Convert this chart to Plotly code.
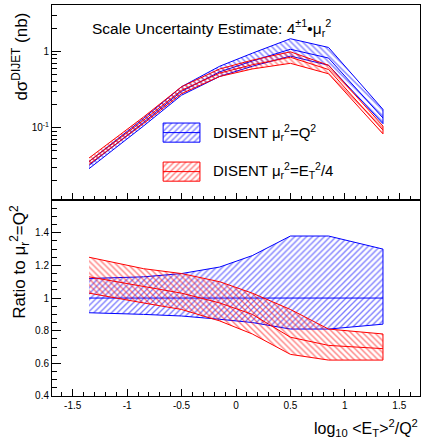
import plotly.graph_objects as go

# ---------------- data ----------------
x_bins = [-1.35, -0.85, -0.5, -0.15, 0.15, 0.5, 0.85, 1.35]

# top panel: d sigma (nb)
blue_xs_up = [0.036, 0.132, 0.345, 0.64, 0.95, 1.47, 1.13, 0.174]
blue_xs_c = [0.032, 0.117, 0.30, 0.54, 0.75, 1.07, 0.82, 0.134]
blue_xs_lo = [0.029, 0.105, 0.267, 0.47, 0.64, 0.87, 0.66, 0.113]
red_xs_up = [0.040, 0.138, 0.345, 0.59, 0.77, 0.99, 0.66, 0.105]
red_xs_c = [0.036, 0.125, 0.31, 0.52, 0.67, 0.84, 0.58, 0.093]
red_xs_lo = [0.033, 0.113, 0.28, 0.47, 0.59, 0.70, 0.51, 0.083]

# bottom panel: ratio to mu_r^2 = Q^2
blue_r_up = [1.12, 1.13, 1.15, 1.19, 1.26, 1.38, 1.38, 1.30]
blue_r_c = [1.0, 1.0, 1.0, 1.0, 1.0, 1.0, 1.0, 1.0]
blue_r_lo = [0.91, 0.90, 0.89, 0.87, 0.85, 0.81, 0.81, 0.84]
red_r_up = [1.25, 1.18, 1.15, 1.10, 1.03, 0.93, 0.81, 0.78]
red_r_c = [1.13, 1.07, 1.03, 0.97, 0.90, 0.76, 0.71, 0.69]
red_r_lo = [1.03, 0.97, 0.93, 0.86, 0.78, 0.655, 0.62, 0.62]

x_tick_vals = [-1.5, -1, -0.5, 0, 0.5, 1, 1.5]
x_tick_text = ["-1.5", "-1", "-0.5", "0", "0.5", "1", "1.5"]
r_tick_vals = [0.4, 0.6, 0.8, 1.0, 1.2, 1.4]
r_tick_text = ["0.4", "0.6", "0.8", "1", "1.2", "1.4"]
xs_tick_vals = [0.1, 1]
xs_tick_text = ["10<sup>-1</sup>", "1"]

legend_labels = ["DISENT μ<sub>r</sub><sup>2</sup>=Q<sup>2</sup>",
                 "DISENT μ<sub>r</sub><sup>2</sup>=E<sub>T</sub><sup>2</sup>/4"]

BLUE = "#0000ff"
RED = "#ff0000"
FONT = "Liberation Sans, Arial, sans-serif"
HATCH_SIZE = 4.2
HATCH_SOLID = 0.33

fig = go.Figure()


def band(x, lo, c, up, color, shape, xa, ya):
    fig.add_trace(go.Scatter(
        x=list(x) + list(x)[::-1], y=list(up) + list(lo)[::-1],
        fill="toself", fillcolor="rgba(0,0,0,0)",
        fillpattern=dict(shape=shape, fgcolor=color, bgcolor="rgba(0,0,0,0)",
                         size=HATCH_SIZE, solidity=HATCH_SOLID),
        mode="lines", line=dict(color=color, width=1),
        xaxis=xa, yaxis=ya, showlegend=False, hoverinfo="skip"))
    fig.add_trace(go.Scatter(x=x, y=c, mode="lines", line=dict(color=color, width=1),
                             xaxis=xa, yaxis=ya, showlegend=False, hoverinfo="skip"))


band(x_bins, blue_xs_lo, blue_xs_c, blue_xs_up, BLUE, "\\", "x", "y")
band(x_bins, red_xs_lo, red_xs_c, red_xs_up, RED, "\\", "x", "y")
band(x_bins, blue_r_lo, blue_r_c, blue_r_up, BLUE, "/", "x2", "y2")
band(x_bins, red_r_lo, red_r_c, red_r_up, RED, "\\", "x2", "y2")

# legend swatches on an overlay axis (fractions of the top panel)
sw_x0, sw_x1 = 0.302, 0.402
for (y0, y1), color, label, ty in [((0.297, 0.395), BLUE, legend_labels[0], 0.675),
                                   ((0.097, 0.195), RED, legend_labels[1], 0.577)]:
    fig.add_trace(go.Scatter(
        x=[sw_x0, sw_x1, sw_x1, sw_x0, sw_x0], y=[y0, y0, y1, y1, y0],
        fill="toself", fillcolor="rgba(0,0,0,0)",
        fillpattern=dict(shape="/", fgcolor=color, bgcolor="rgba(0,0,0,0)",
                         size=HATCH_SIZE, solidity=HATCH_SOLID),
        mode="lines", line=dict(color=color, width=1),
        xaxis="x3", yaxis="y3", showlegend=False, hoverinfo="skip"))
    fig.add_trace(go.Scatter(
        x=[sw_x0, sw_x1], y=[(y0 + y1) / 2] * 2, mode="lines",
        line=dict(color=color, width=1),
        xaxis="x3", yaxis="y3", showlegend=False, hoverinfo="skip"))
    fig.add_annotation(xref="paper", yref="paper", x=0.432, y=ty, text=label,
                       showarrow=False, xanchor="left", yanchor="middle",
                       font=dict(family=FONT, size=15, color="black"))

axis_common = dict(showline=True, linecolor="black", linewidth=1, mirror=True,
                   ticks="inside", tickcolor="black", showgrid=False, zeroline=False,
                   tickfont=dict(family=FONT, size=10, color="black"))

x_range = [-1.69, 1.69]
split = 0.501

fig.update_layout(
    width=423, height=445,
    margin=dict(l=52, r=3, t=5, b=49),
    paper_bgcolor="white", plot_bgcolor="white",
    showlegend=False,
    xaxis=dict(domain=[0, 1], range=x_range, anchor="y", showticklabels=False,
               tickvals=x_tick_vals, ticklen=7,
               minor=dict(dtick=0.1, tick0=0, ticks="inside", ticklen=4, tickcolor="black"),
               **axis_common),
    yaxis=dict(domain=[split, 1], type="log", range=[-1.95, 0.61], anchor="x",
               tickvals=xs_tick_vals, ticktext=xs_tick_text, ticklen=9,
               minor=dict(tickvals=[0.02, 0.03, 0.04, 0.05, 0.06, 0.07, 0.08, 0.09,
                                    0.2, 0.3, 0.4, 0.5, 0.6, 0.7, 0.8, 0.9, 2, 3, 4],
                          ticks="inside", ticklen=5, tickcolor="black"),
               **axis_common),
    xaxis2=dict(domain=[0, 1], range=x_range, anchor="y2", matches="x",
                tickvals=x_tick_vals, ticktext=x_tick_text, ticklen=7,
                minor=dict(dtick=0.1, tick0=0, ticks="inside", ticklen=4, tickcolor="black"),
                **axis_common),
    yaxis2=dict(domain=[0, split], range=[0.4, 1.6], anchor="x2",
                tickvals=r_tick_vals, ticktext=r_tick_text, ticklen=9,
                minor=dict(dtick=0.05, tick0=0, ticks="inside", ticklen=5, tickcolor="black"),
                **axis_common),
    xaxis3=dict(range=[0, 1], anchor="y3", overlaying="x", visible=False),
    yaxis3=dict(range=[0, 1], anchor="x3", overlaying="y", visible=False),
)

# titles
fig.add_annotation(xref="paper", yref="paper", x=0.103, y=0.94,
                   text="Scale Uncertainty Estimate: 4<sup>±1</sup>•μ<sub>r</sub><sup>2</sup>",
                   showarrow=False, xanchor="left", yanchor="middle",
                   font=dict(family=FONT, size=15.5, color="black"))
fig.add_annotation(xref="paper", yref="paper", x=-0.087, y=0.868,
                   text="dσ<sup>DIJET</sup> (nb)", textangle=-90,
                   showarrow=False, xanchor="center", yanchor="middle",
                   font=dict(family=FONT, size=17, color="black"))
fig.add_annotation(xref="paper", yref="paper", x=-0.087, y=0.343,
                   text="Ratio to μ<sub>r</sub><sup>2</sup>=Q<sup>2</sup>", textangle=-90,
                   showarrow=False, xanchor="center", yanchor="middle",
                   font=dict(family=FONT, size=17, color="black"))
fig.add_annotation(xref="paper", yref="paper", x=1.0, y=-0.082,
                   text="log<sub>10</sub> &lt;E<sub>T</sub>&gt;<sup>2</sup>/Q<sup>2</sup>",
                   showarrow=False, xanchor="right", yanchor="middle",
                   font=dict(family=FONT, size=16, color="black"))

fig.write_html("out.html", config={"displayModeBar": False},
               post_script="document.body.style.margin='0px';")
